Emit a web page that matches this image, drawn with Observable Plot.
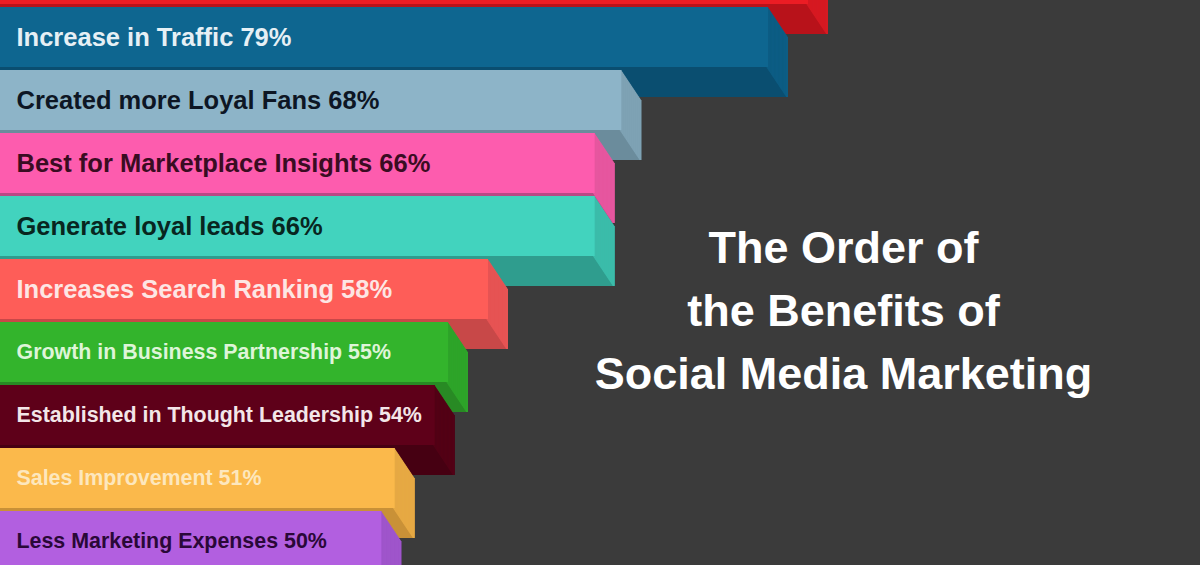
<!DOCTYPE html>
<html>
<head>
<meta charset="utf-8">
<script src="https://cdn.jsdelivr.net/npm/d3@7"></script>
<script src="https://cdn.jsdelivr.net/npm/@observablehq/plot@0.6"></script>
<style>
  html, body { margin: 0; padding: 0; background: #3b3b3b; overflow: hidden; }
  #chart { width: 1200px; height: 565px; overflow: hidden; }
</style>
</head>
<body>
<div id="chart"></div>
<script>
// Benefits, in order; the first block runs off the top edge without a label.
const benefits = [
  "",
  "Increase in Traffic",
  "Created more Loyal Fans",
  "Best for Marketplace Insights",
  "Generate loyal leads",
  "Increases Search Ranking",
  "Growth in Business Partnership",
  "Established in Thought Leadership",
  "Sales Improvement",
  "Less Marketing Expenses"
];
const shares = [82, 79, 68, 66, 66, 58, 55, 54, 51, 50];

// Palette: front face, right side face, underside, label ink
const faceColors  = ["#ec1c24", "#0e6690", "#8db4c8", "#fd5cae", "#42d3be", "#fe5d58", "#33b42c", "#5e0019", "#fbb94b", "#b25fe0"];
const sideColors  = ["#d61a22", "#0d5d84", "#7ea2b4", "#e6579f", "#3cbcaa", "#e65454", "#2ea42a", "#530016", "#e6a944", "#9f55cb"];
const baseColors  = ["#b8121a", "#0a4e70", "#6b8c9c", "#b84a85", "#2f9d8e", "#c84848", "#288a24", "#460012", "#c99137", "#8947ae"];
const labelColors = ["#ffffff", "#e6f0f5", "#0d1624", "#3a0c22", "#08261f", "#fde6e4", "#def5d8", "#f3e6e8", "#fde7bd", "#2a0838"];

const titleText = "The Order of\nthe Benefits of\nSocial Media Marketing";

const rows = benefits.map((name, i) => ({
  rank: i,
  name,
  share: shares[i],
  face: faceColors[i],
  side: sideColors[i],
  base: baseColors[i],
  ink: labelColors[i]
}));

// Extrusion of each block: pushed right and down by this many pixels
const DEPTH_X = 20, DEPTH_Y = 30, STEPS = 45;
const font = "'Liberation Sans', Arial, Helvetica, sans-serif";

const marks = [];

// Back copy of every block, which shows as the darker underside
marks.push(Plot.barX(rows, {x: "share", y: "rank", fill: "base", dx: DEPTH_X, dy: DEPTH_Y}));

// Right-hand side faces, swept along the depth direction
for (let k = 0; k <= STEPS; ++k) {
  marks.push(Plot.barX(rows, {
    x1: "share", x2: "share", y: "rank",
    insetLeft: -2,
    fill: "side",
    dx: DEPTH_X * k / STEPS,
    dy: DEPTH_Y * k / STEPS
  }));
}

// Front faces
marks.push(Plot.barX(rows, {x: "share", y: "rank", fill: "face"}));

// Labels with their percentages
marks.push(Plot.text(rows.filter(d => d.name), {
  y: "rank",
  text: d => `${d.name} ${d.share}%`,
  frameAnchor: "left",
  dx: 16,
  textAnchor: "start",
  fill: "ink",
  fontSize: d => (d.rank <= 5 ? 25.5 : 21.4),
  fontWeight: "bold",
  fontFamily: font
}));

// Heading on the right
marks.push(Plot.text([titleText], {
  text: d => d,
  frameAnchor: "right",
  dx: -357,
  dy: 23,
  textAnchor: "middle",
  lineHeight: 1.39,
  fill: "#ffffff",
  fontSize: 45,
  fontWeight: "bold",
  fontFamily: font
}));

const chart = Plot.plot({
  width: 1200,
  height: 565,
  margin: 0,
  style: {background: "#3b3b3b", fontFamily: font},
  x: {domain: [21.4, 111.4], axis: null},
  y: {domain: d3.range(benefits.length), range: [-58, 572], paddingInner: 0.05, paddingOuter: 0, axis: null},
  color: {type: "identity"},
  marks
});

document.getElementById("chart").append(chart);
</script>
</body>
</html>
